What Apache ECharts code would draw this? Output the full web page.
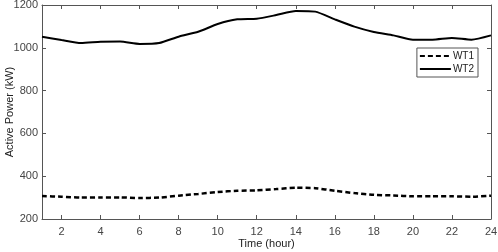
<!DOCTYPE html>
<html><head><meta charset="utf-8">
<script src="https://cdn.jsdelivr.net/npm/echarts@6/dist/echarts.min.js"></script>
<style>html,body{margin:0;padding:0;background:#fff}#c{width:498px;height:252px}</style>
</head><body><div id="c"></div>
<script>
const hours = [1,2,3,4,5,6,7,8,9,10,11,12,13,14,15,16,17,18,19,20,21,22,23,24];
const wt1 = [307,304,300,301,301,298,300,309,317,326,332,334,340,346,344,332,321,313,310,306,306,306,304,309];
const wt2 = [1052,1036,1022,1028,1029,1018,1022,1052,1075,1111,1133,1136,1153,1172,1169,1133,1099,1074,1058,1038,1038,1046,1038,1058];
const xTicks = [2,4,6,8,10,12,14,16,18,20,22,24];
const yTicks = [200,400,600,800,1000,1200];

const chart = echarts.init(document.getElementById('c'));
const axisLine = {show:true, lineStyle:{color:'#555', width:1}};
const tick = {show:true, inside:true, length:4, lineStyle:{color:'#555'}};
const font = 'Liberation Sans, Arial, sans-serif';
chart.setOption({
  animation:false,
  grid:{left:42, right:7, top:5, bottom:33, outerBoundsMode:'none', containLabel:false},
  legend:{
    right:20, top:48, orient:'vertical', itemGap:3, itemWidth:31, itemHeight:10,
    backgroundColor:'#fff', borderColor:'#555', borderWidth:1, padding:[3,4,3,2],
    textStyle:{fontSize:10, color:'#222', fontFamily:font, padding:[0,0,0,-3]},
    itemStyle:{opacity:0},
    data:['WT1','WT2']
  },
  xAxis:[{
    type:'value', min:1, max:24, interval:1,
    axisLine, axisTick:{...tick, customValues:xTicks},
    axisLabel:{color:'#444', fontSize:11, fontFamily:font, margin:7, customValues:xTicks},
    splitLine:{show:false},
    name:'Time (hour)', nameLocation:'middle', nameGap:19, nameMoveOverlap:false,
    nameTextStyle:{color:'#222', fontSize:11, fontFamily:font}
  },{
    type:'value', position:'top', min:1, max:24,
    axisLine, axisTick:{...tick, customValues:xTicks}, axisLabel:{show:false}, splitLine:{show:false}
  }],
  yAxis:[{
    type:'value', min:200, max:1200, interval:200,
    axisLine, axisTick:tick,
    axisLabel:{color:'#444', fontSize:11, fontFamily:font, margin:4, formatter:v=>String(v)},
    splitLine:{show:false},
    name:'Active Power (kW)', nameLocation:'middle', nameGap:27, nameRotate:90, nameMoveOverlap:false,
    nameTextStyle:{color:'#222', fontSize:11, fontFamily:font}
  },{
    type:'value', position:'right', min:200, max:1200, interval:200,
    axisLine, axisTick:tick, axisLabel:{show:false}, splitLine:{show:false}
  }],
  series:[{
    name:'WT1', type:'line', data:hours.map((h,i)=>[h,wt1[i]]), symbol:'none', smooth:0.2,
    lineStyle:{color:'#000', width:2.5, type:[5,3]}, itemStyle:{color:'#000'}
  },{
    name:'WT2', type:'line', data:hours.map((h,i)=>[h,wt2[i]]), symbol:'none', smooth:0.2,
    lineStyle:{color:'#000', width:2}, itemStyle:{color:'#000'}
  }]
});
</script></body></html>
